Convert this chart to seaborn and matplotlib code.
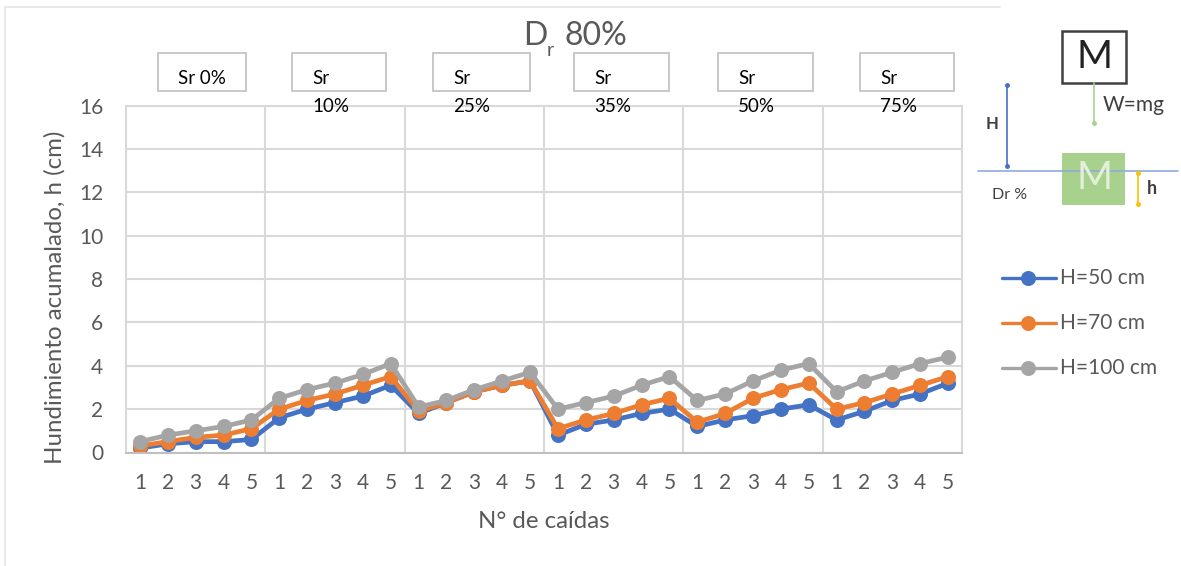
import matplotlib
matplotlib.use("Agg")
import matplotlib.pyplot as plt
from matplotlib.patches import Rectangle
import numpy as np
import pandas as pd
import seaborn as sns

falls = [1, 2, 3, 4, 5]
sr_labels = ["Sr 0%", "Sr\n10%", "Sr\n25%", "Sr\n35%", "Sr\n50%", "Sr\n75%"]
h_50 = [0.2, 0.4, 0.5, 0.5, 0.6, 1.6, 2.0, 2.3, 2.6, 3.1, 1.8, 2.3, 2.8, 3.1, 3.3,
        0.8, 1.3, 1.5, 1.8, 2.0, 1.2, 1.5, 1.7, 2.0, 2.2, 1.5, 1.9, 2.4, 2.7, 3.2]
h_70 = [0.3, 0.5, 0.7, 0.8, 1.1, 2.0, 2.4, 2.7, 3.1, 3.5, 1.9, 2.3, 2.8, 3.1, 3.3,
        1.1, 1.5, 1.8, 2.2, 2.5, 1.4, 1.8, 2.5, 2.9, 3.2, 2.0, 2.3, 2.7, 3.1, 3.5]
h_100 = [0.5, 0.8, 1.0, 1.2, 1.5, 2.5, 2.9, 3.2, 3.6, 4.1, 2.1, 2.4, 2.9, 3.3, 3.7,
         2.0, 2.3, 2.6, 3.1, 3.5, 2.4, 2.7, 3.3, 3.8, 4.1, 2.8, 3.3, 3.7, 4.1, 4.4]
colors = ["#4472C4", "#ED7D31", "#A5A5A5"]
names = ["H=50 cm", "H=70 cm", "H=100 cm"]

sns.set_theme(style="white")
plt.rcParams["font.family"] = ["Lato", "DejaVu Sans"]

W, H = 1181, 566
fig = plt.figure(figsize=(W / 100, H / 100), dpi=100)
ax = fig.add_axes([126 / W, 1 - 452.5 / H, 836 / W, 347 / H])

n = len(h_50)
df = pd.DataFrame({"pos": list(range(n)) * 3,
                   "h": h_50 + h_70 + h_100,
                   "serie": np.repeat(names, n)})
sns.lineplot(data=df, x="pos", y="h", hue="serie", palette=colors, marker="o",
             markersize=10.8, markeredgewidth=0, linewidth=3.4, ax=ax, legend=False)

ax.set_xlim(-0.5, n - 0.5)
ax.set_ylim(0, 16)
ax.set_yticks(range(0, 17, 2))
ax.set_xticks(range(n))
ax.set_xticklabels(falls * 6)
ax.tick_params(axis="x", labelsize=15, labelcolor="#595959", length=0, pad=15)
ax.tick_params(axis="y", labelsize=15, labelcolor="#595959", length=0, pad=16.5)
ax.set_xlabel("N° de caídas", fontsize=17.3, color="#595959", va="center")
ax.set_ylabel("Hundimiento acumalado, h (cm)", fontsize=17.3, color="#595959", va="center")
ax.xaxis.set_label_coords(0.5, -(522 - 452.5) / 347)
ax.yaxis.set_label_coords((55 - 126) / 836, (452.5 - 297) / 347)

# horizontal grid plus group separators
ax.grid(axis="y", color="#D9D9D9", linewidth=1.5)
ax.set_axisbelow(True)
for sep in np.arange(5, n, 5):
    ax.axvline(sep - 0.5, color="#D9D9D9", linewidth=1.5, zorder=0)
for side, sp in ax.spines.items():
    sp.set_color("#BFBFBF" if side == "bottom" else "#D9D9D9")
    sp.set_linewidth(1.5)

# overlay in pixel coordinates for boxes, diagram and legend
ov = fig.add_axes([0, 0, 1, 1], facecolor="none")
ov.set_xlim(0, W)
ov.set_ylim(H, 0)
ov.axis("off")

ov.plot([5, 5, 1000], [566, 7, 7], color="#E4E4E4", linewidth=1.2)
ov.text(523, 36, "D", fontsize=23, color="#595959", ha="left", va="center")
ov.text(547, 50, "r", fontsize=14, color="#595959", ha="left", va="center")
ov.text(564, 36, "80%", fontsize=23, color="#595959", ha="left", va="center")

box_left = [158, 292, 433, 574, 718, 860]
box_right = [246, 386, 530, 669, 813, 954]
for x0, x1, lab in zip(box_left, box_right, sr_labels):
    ov.add_patch(Rectangle((x0, 53), x1 - x0, 38, fc="white", ec="#BFBFBF", lw=1.2))
    if "\n" in lab:
        a, b = lab.split("\n")
        ov.text(x0 + 20, 78, a, fontsize=13.5, color="black", ha="left", va="center")
        ov.text(x0 + 20, 107, b, fontsize=13.5, color="black", ha="left", va="center")
    else:
        ov.text((x0 + x1) / 2, 78, lab, fontsize=13.5, color="black", ha="center", va="center")

# M drop diagram
ov.add_patch(Rectangle((1062, 31), 64, 52, fc="white", ec="#404040", lw=1.8))
ov.text(1094, 57, "M", fontsize=28, color="#222222", ha="center", va="center")
ov.plot([1094, 1094], [83, 123], color="#A9D18E", lw=1.2, marker="o", markersize=2.5, markevery=[1])
ov.text(1134, 105, "W=mg", fontsize=15, color="#404040", ha="center", va="center")
ov.plot([1007, 1007], [85, 166], color="#4472C4", lw=1.2, marker="o", markersize=2.5)
ov.text(992, 124, "H", fontsize=12, fontweight="bold", color="#404040", ha="center", va="center")
ov.add_patch(Rectangle((1062, 153), 63, 52, fc="#A9D18E", ec="none"))
ov.text(1094, 178, "M", fontsize=28, color="#E2EFD9", ha="center", va="center")
ov.plot([978, 1178], [171, 171], color="#8FAADC", lw=1.2)
ov.plot([1138, 1138], [173, 204], color="#FFC000", lw=1.2, marker="o", markersize=2.5)
ov.text(1152, 188, "h", fontsize=13, fontweight="bold", color="#404040", ha="center", va="center")
ov.text(1010, 195, "Dr %", fontsize=11.5, color="#404040", ha="center", va="center")

# legend
for y, c, name in zip([278, 323, 368], colors, names):
    ov.plot([1002, 1056], [y, y], color=c, linewidth=2.4)
    ov.plot([1028], [y], color=c, marker="o", markersize=10.8, markeredgewidth=0)
    ov.text(1060, y, name, fontsize=15, color="#595959", ha="left", va="center")

fig.savefig("out.png", dpi=100, facecolor="white")
